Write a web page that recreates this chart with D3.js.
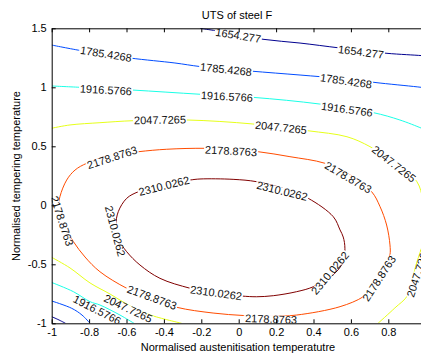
<!DOCTYPE html>
<html>
<head>
<meta charset="utf-8">
<script src="https://cdn.jsdelivr.net/npm/d3@7"></script>
<style>
  body { margin: 0; background: #fff; }
  text { font-family: "Liberation Sans", Arial, sans-serif; }
</style>
</head>
<body>
<svg id="chart"></svg>
<script>
// contour levels (UTS) and their jet colours
const levels = [1654.277, 1785.4268, 1916.5766, 2047.7265, 2178.8763, 2310.0262];
const levelColors = ["#00008f", "#004cff", "#19ffe6", "#e6ff19", "#ff4c00", "#800000"];

const xTicks = [-1, -0.8, -0.6, -0.4, -0.2, 0, 0.2, 0.4, 0.6, 0.8, 1];
const yTicks = [-1, -0.5, 0, 0.5, 1, 1.5];

// contour lines, [austenitisation, tempering]
const line1654top = [[-0.207,1.5],[-0.047,1.46],[0.13,1.407],[0.328,1.375],[0.542,1.333],[0.793,1.288],[0.975,1.269],[1.0,1.265]];
const line1654corner = [[-1,-0.944],[-0.966,-0.968],[-0.926,-1.0]];
const line1785top = [[-1,1.358],[-0.833,1.308],[-0.581,1.248],[-0.341,1.206],[-0.207,1.176],[0.06,1.138],[0.328,1.104],[0.542,1.075],[0.756,1.036],[0.975,1.0],[1.0,0.994]];
const line1785corner = [[-1,-0.811],[-0.893,-0.873],[-0.838,-0.93],[-0.795,-1.0]];
const line1916top = [[-1,1.011],[-0.849,1.0],[-0.571,0.977],[-0.207,0.941],[0.076,0.915],[0.434,0.858],[0.718,0.786],[0.862,0.723],[0.975,0.655],[1.0,0.638]];
const line1916corner = [[-1,-0.654],[-0.884,-0.732],[-0.795,-0.817],[-0.742,-0.845],[-0.635,-0.93],[-0.56,-1.0]];
const line2047outer = [[-1,0.653],[-0.902,0.681],[-0.742,0.7],[-0.565,0.717],[-0.277,0.723],[0.076,0.689],[0.37,0.632],[0.579,0.581],[0.702,0.497],[0.836,0.358],[0.953,0.2],[0.986,0.045],[1.012,-0.15],[0.99,-0.3],[0.948,-0.506],[0.905,-0.76],[0.835,-0.87],[0.745,-1.0]];
const line2047corner = [[-1,-0.441],[-0.902,-0.531],[-0.795,-0.658],[-0.688,-0.752],[-0.581,-0.853],[-0.474,-0.929],[-0.305,-1.0]];
const line2178ring = [[-0.956,0.073],[-0.92,0.214],[-0.875,0.299],[-0.813,0.356],[-0.688,0.422],[-0.537,0.454],[-0.385,0.475],[-0.18,0.483],[-0.047,0.473],[0.105,0.454],[0.274,0.412],[0.461,0.356],[0.595,0.257],[0.711,0.115],[0.756,-0.012],[0.791,-0.167],[0.809,-0.336],[0.809,-0.421],[0.783,-0.565],[0.729,-0.684],[0.666,-0.775],[0.542,-0.859],[0.31,-0.93],[0.167,-0.942],[0.025,-0.934],[-0.137,-0.913],[-0.332,-0.864],[-0.474,-0.786],[-0.599,-0.703],[-0.742,-0.563],[-0.822,-0.438],[-0.884,-0.308],[-0.945,-0.142],[-0.966,-0.04]];
const line2310ring = [[-0.644,-0.054],[-0.599,0.059],[-0.537,0.115],[-0.421,0.172],[-0.26,0.214],[-0.207,0.223],[-0.03,0.22],[0.096,0.2],[0.248,0.138],[0.372,0.059],[0.506,-0.097],[0.542,-0.209],[0.559,-0.269],[0.568,-0.364],[0.558,-0.481],[0.504,-0.591],[0.399,-0.69],[0.31,-0.732],[0.185,-0.766],[0.096,-0.775],[0.016,-0.769],[-0.127,-0.747],[-0.26,-0.703],[-0.421,-0.619],[-0.528,-0.506],[-0.599,-0.393],[-0.64,-0.294],[-0.656,-0.167]];

// which level each line belongs to, and whether it closes on itself
const contourLines = [
  { level: 0, pts: line1654top, closed: false },
  { level: 0, pts: line1654corner, closed: false },
  { level: 1, pts: line1785top, closed: false },
  { level: 1, pts: line1785corner, closed: false },
  { level: 2, pts: line1916top, closed: false },
  { level: 2, pts: line1916corner, closed: false },
  { level: 3, pts: line2047outer, closed: false },
  { level: 3, pts: line2047corner, closed: false },
  { level: 4, pts: line2178ring, closed: true },
  { level: 5, pts: line2310ring, closed: true }
];

// clabel positions: [x, y, rotation in degrees, level index]
const labelSpots = [
  [-0.003, 1.439, 9, 0], [0.654, 1.299, 7, 0],
  [-0.71, 1.282, 9, 1], [-0.068, 1.151, 6, 1], [0.574, 1.053, 8, 1],
  [-0.71, 0.977, 3, 2], [-0.063, 0.922, 3, 2], [0.579, 0.812, 8, 2], [-0.757, -0.887, 27, 2],
  [-0.421, 0.723, -1, 3], [0.226, 0.659, 6, 3], [0.83, 0.35, 38, 3], [0.959, -0.565, -72, 3], [-0.591, -0.875, 25, 3],
  [-0.677, 0.405, -18, 4], [-0.041, 0.46, 3, 4], [0.585, 0.236, 30, 4], [-0.945, -0.133, 72, 4],
  [-0.464, -0.781, 20, 4], [0.173, -0.964, 2, 4], [0.751, -0.62, -57, 4],
  [-0.399, 0.164, -14, 5], [0.232, 0.121, 14, 5], [0.488, -0.574, -50, 5], [-0.121, -0.743, 8, 5], [-0.661, -0.218, 75, 5]
];

const W = 421, H = 356;
const svg = d3.select("#chart").attr("width", W).attr("height", H);

const x = d3.scaleLinear().domain([-1, 1]).range([51.7, 425.7]);
const y = d3.scaleLinear().domain([-1, 1.5]).range([323.3, 28.3]);

svg.append("defs").append("clipPath").attr("id", "plotclip")
  .append("rect")
  .attr("x", x(-1)).attr("y", y(1.5))
  .attr("width", x(1) - x(-1)).attr("height", y(-1) - y(1.5));

const plot = svg.append("g").attr("clip-path", "url(#plotclip)");

const openLine = d3.line().x(d => x(d[0])).y(d => y(d[1])).curve(d3.curveCatmullRom);
const closedLine = d3.line().x(d => x(d[0])).y(d => y(d[1])).curve(d3.curveCatmullRomClosed);

plot.selectAll("path.contour").data(contourLines)
  .enter()
  .append("path")
  .attr("class", "contour")
  .attr("d", d => d.closed ? closedLine(d.pts) : openLine(d.pts))
  .attr("fill", "none")
  .attr("stroke", d => levelColors[d.level])
  .attr("stroke-width", 1);

// labels with a white gap in the line under them
const labs = plot.selectAll("g.clabel").data(labelSpots)
  .enter()
  .append("g")
  .attr("class", "clabel")
  .attr("transform", d => `translate(${x(d[0])},${y(d[1])}) rotate(${d[2]})`);

labs.append("text")
  .text(d => String(levels[d[3]]))
  .attr("text-anchor", "middle")
  .attr("dy", "0.35em")
  .attr("font-size", "11px")
  .attr("fill", "#111");

labs.each(function() {
  const g = d3.select(this);
  const bb = g.select("text").node().getBBox();
  g.insert("rect", "text")
    .attr("x", bb.x - 1).attr("y", -3.5)
    .attr("width", bb.width + 2).attr("height", 7)
    .attr("fill", "#fff");
});

// axes, MATLAB style box with inward ticks
const fmt = d => String(d);
const axStyle = g => {
  g.selectAll("path.domain").attr("stroke", "#000").attr("stroke-width", 1);
  g.selectAll(".tick line").attr("stroke", "#000");
  g.selectAll("text").attr("font-size", "11px").attr("fill", "#000")
    .attr("font-family", "'Liberation Sans', Arial, sans-serif");
};

svg.append("g")
  .attr("transform", `translate(0,${y(-1)})`)
  .call(d3.axisBottom(x).tickValues(xTicks).tickFormat(fmt).tickSizeInner(-4).tickSizeOuter(0).tickPadding(5))
  .call(axStyle);

svg.append("g")
  .attr("transform", `translate(0,${y(1.5)})`)
  .call(d3.axisTop(x).tickValues(xTicks).tickFormat("").tickSizeInner(-4).tickSizeOuter(0))
  .call(axStyle);

svg.append("g")
  .attr("transform", `translate(${x(-1)},0)`)
  .call(d3.axisLeft(y).tickValues(yTicks).tickFormat(fmt).tickSizeInner(-4).tickSizeOuter(0).tickPadding(5))
  .call(axStyle);

svg.append("g")
  .attr("transform", `translate(${x(1)},0)`)
  .call(d3.axisRight(y).tickValues(yTicks).tickFormat("").tickSizeInner(-4).tickSizeOuter(0))
  .call(axStyle);

// titles
svg.append("text")
  .text("UTS of steel F")
  .attr("x", 237).attr("y", 19)
  .attr("text-anchor", "middle")
  .attr("font-size", "11px");

svg.append("text")
  .text("Normalised austenitisation temperatutre")
  .attr("x", 238).attr("y", 351)
  .attr("text-anchor", "middle")
  .attr("font-size", "11px");

svg.append("text")
  .text("Normalised tempering temperature")
  .attr("transform", "translate(20,176) rotate(-90)")
  .attr("text-anchor", "middle")
  .attr("font-size", "11px");
</script>
</body>
</html>
